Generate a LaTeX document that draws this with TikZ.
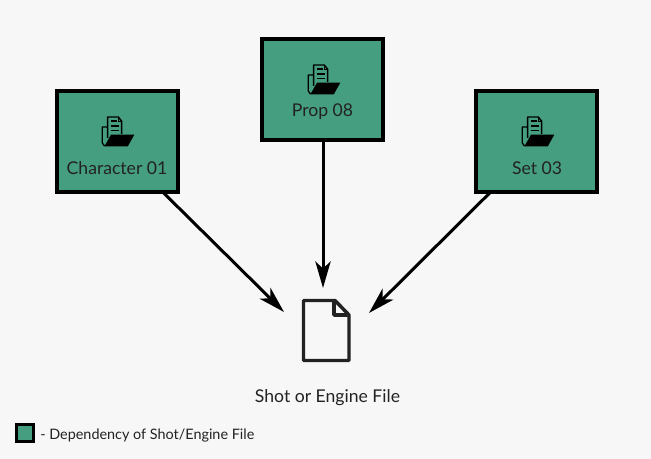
\documentclass[tikz,border=0pt]{standalone}
\usepackage{fontspec}
\setmainfont{Lato}
\usetikzlibrary{arrows.meta,calc}
\definecolor{pagebg}{HTML}{F7F7F7}
\definecolor{boxgreen}{HTML}{459E7F}
\definecolor{ink}{HTML}{222222}
\tikzset{
  x=0.75pt,y=-0.75pt,
  depbox/.style={draw=black,line width=3pt,fill=boxgreen,minimum width=90.75pt,minimum height=75.75pt,inner sep=0pt,outer sep=0pt},
  boxlabel/.style={font=\fontsize{13.2}{15}\selectfont,text=ink,inner sep=0pt,anchor=base},
  link/.style={draw=black,line width=2.25pt,-{Stealth[length=20pt,width=11.5pt,inset=5.5pt]}},
  folder/.pic={
    % back sheet, front sheet and open folder flap
    \draw[black,line width=1pt,line join=round] (-10,-5) -- (-14.7,-5) -- (-14.7,11) -- (-12.5,14);
    \draw[black,line width=1.1pt,line join=round] (-9.3,6) -- (-9.3,-15) -- (1.3,-15) -- (4.7,-10.7) -- (4.7,2);
    \draw[black,line width=0.9pt] (1.3,-15) -- (1.3,-10.7) -- (4.7,-10.7);
    \draw[black,line width=1.1pt] (-6.5,-11) -- (0,-11) (-6.5,-6) -- (2,-6) (-6.5,-1.7) -- (2,-1.7);
    \fill[black,line join=round] (-6,2.7) -- (17.3,2.7) -- (10.7,14.5) -- (-12.7,14.5) -- cycle;
  }
}
\begin{document}
\begin{tikzpicture}
  \useasboundingbox[fill=pagebg] (0,0) rectangle (651,459);

  % Dependency boxes
  \node[depbox] (char) at (117.5,141.5) {};
  \node[depbox] (prop) at (322.5,90) {};
  \node[depbox] (set)  at (536,141.5) {};
  \pic at (117,132) {folder};
  \pic at (323,80) {folder};
  \pic at (537,132) {folder};
  \node[boxlabel] (charlabel) at (117,175) {Character 01};
  \node[boxlabel] (proplabel) at (322.5,116.5) {Prop 08};
  \node[boxlabel] (setlabel)  at (537,175) {Set 03};

  % Shot file icon
  \node[inner sep=0pt,minimum width=34pt,minimum height=45pt] (file) at (326,330.5) {};
  \draw[ink,line width=2.6pt,line join=round,fill=pagebg]
    (303.5,300.5) -- (335,300.5) -- (349,315) -- (349,360.5) -- (303.5,360.5) -- cycle;
  \draw[ink,line width=2.6pt,line join=round] (334,300.5) -- (334,315) -- (349,315);
  \node[boxlabel] (filelabel) at (327.5,403) {Shot or Engine File};

  % Arrows into the shot file
  \coordinate (tipchar) at (284,312);
  \coordinate (tipprop) at (323,288);
  \coordinate (tipset)  at (369,313);
  \draw[link] ([xshift=33.9pt]char.south) -- (tipchar);
  \draw[link] ([xshift=0.375pt]prop.south) -- (tipprop);
  \draw[link] ([xshift=-34pt]set.south) -- (tipset);

  % Legend
  \node[draw=black,line width=2.2pt,fill=boxgreen,minimum size=13pt,inner sep=0pt] (key) at (25,433) {};
  \node[anchor=base west,inner sep=0pt,font=\fontsize{10.8}{12}\selectfont,text=ink] (keytext) at (40,440) {- Dependency of Shot/Engine File};
\end{tikzpicture}
\end{document}
